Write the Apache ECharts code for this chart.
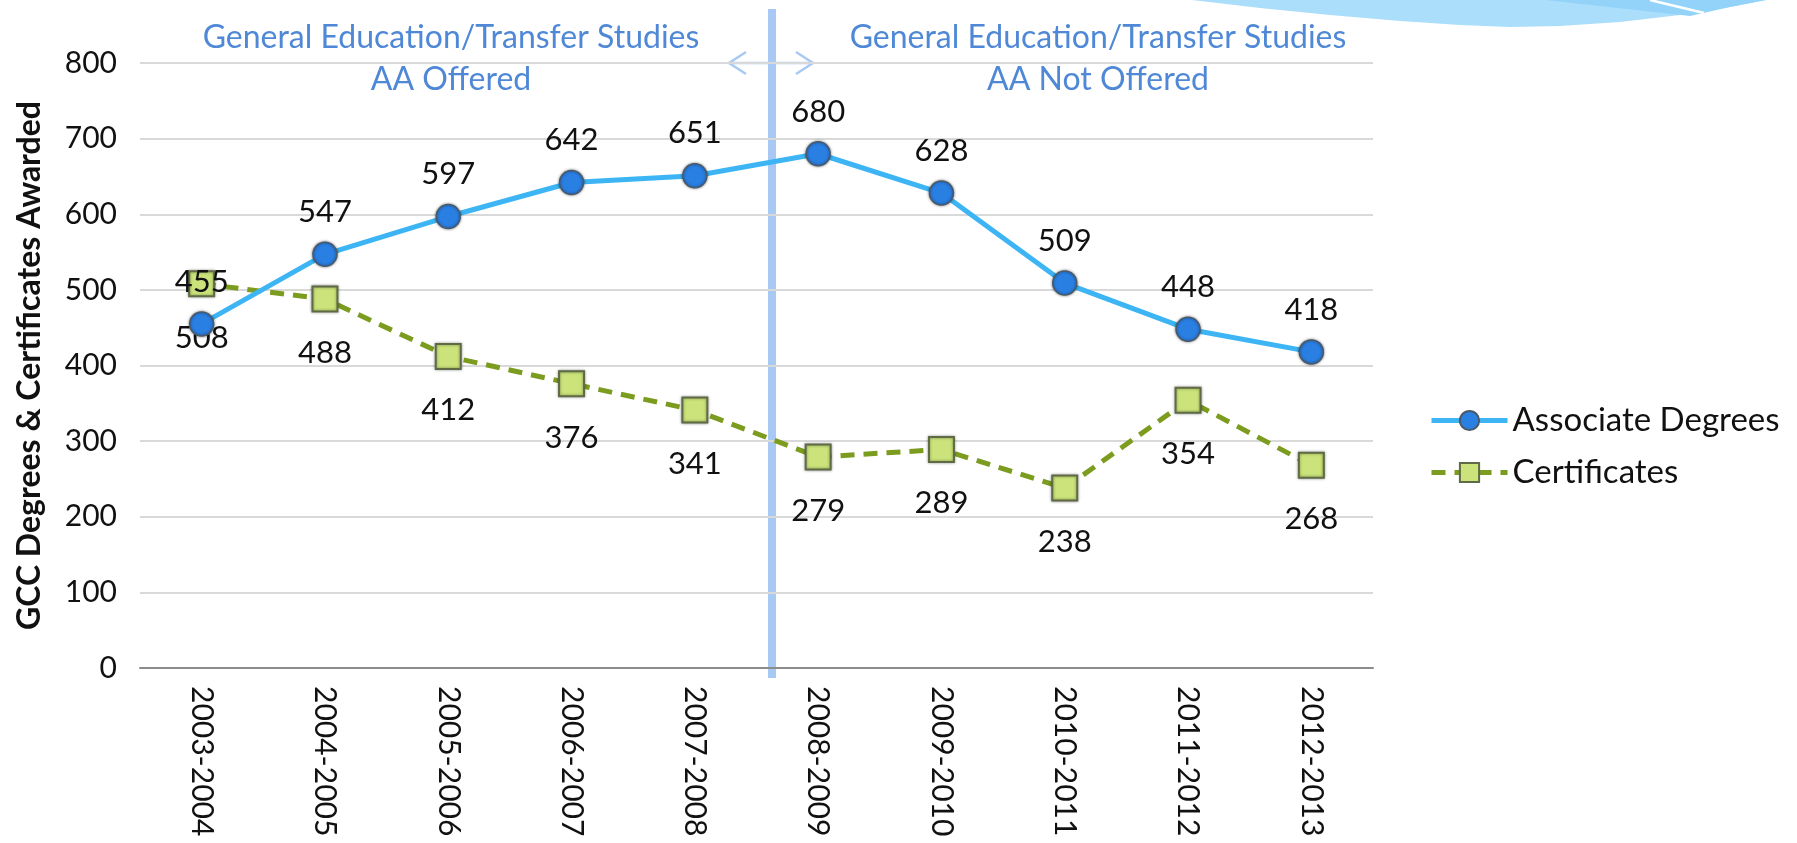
<!DOCTYPE html>
<html>
<head>
<meta charset="utf-8">
<script src="https://cdn.jsdelivr.net/npm/echarts@6/dist/echarts.min.js"></script>
<style>
  html, body { margin: 0; padding: 0; background: #fff; }
  #main { width: 1797px; height: 843px; }
</style>
</head>
<body>
<div id="main"></div>
<script>
var years = ['2003-2004', '2004-2005', '2005-2006', '2006-2007', '2007-2008',
    '2008-2009', '2009-2010', '2010-2011', '2011-2012', '2012-2013'];
var associateDegrees = [455, 547, 597, 642, 651, 680, 628, 509, 448, 418];
var certificates = [508, 488, 412, 376, 341, 279, 289, 238, 354, 268];
var yTicks = { min: 0, max: 800, step: 100 };

var FONT = 'Lato';
var noteBlue = '#4f88d6';
var dividerBlue = '#a9c9f5';

var chart = echarts.init(document.getElementById('main'));

function note(text, x, y) {
    return {
        type: 'text',
        x: x,
        y: y,
        silent: true,
        style: {
            text: text,
            fill: noteBlue,
            font: '32px ' + FONT,
            textAlign: 'center',
            textVerticalAlign: 'middle'
        }
    };
}

var option = {
    animation: false,
    textStyle: { fontFamily: FONT },
    grid: { left: 140, right: 424, top: 63, bottom: 175 },
    legend: {
        orient: 'vertical',
        left: 1424,
        top: 399,
        itemWidth: 76,
        itemHeight: 24,
        itemGap: 19,
        lineStyle: { width: 5 },
        textStyle: { fontSize: 33, color: '#111', fontFamily: FONT },
        data: ['Associate Degrees', 'Certificates']
    },
    xAxis: {
        type: 'category',
        data: years,
        axisLine: { lineStyle: { color: '#8c8c8c', width: 2 } },
        axisTick: { length: 10, lineStyle: { color: '#8c8c8c', width: 2 } },
        axisLabel: { rotate: -90, margin: 18, fontSize: 30, color: '#111', fontFamily: FONT }
    },
    yAxis: {
        type: 'value',
        min: yTicks.min,
        max: yTicks.max,
        interval: yTicks.step,
        name: 'GCC Degrees & Certificates Awarded',
        nameLocation: 'middle',
        nameGap: 94,
        nameTextStyle: { fontSize: 32, fontWeight: 'bold', color: '#111', fontFamily: FONT },
        axisLine: { show: false },
        axisTick: { show: false },
        axisLabel: { margin: 23, fontSize: 30, color: '#111', fontFamily: FONT },
        splitLine: { lineStyle: { color: '#d9d9d9', width: 2 } }
    },
    series: [{
            name: 'Associate Degrees',
            type: 'line',
            data: associateDegrees,
            symbol: 'circle',
            symbolSize: 24,
            z: 3,
            lineStyle: { color: '#3db5f5', width: 5 },
            itemStyle: {
                color: '#2a7fe3',
                borderColor: '#4a5a6a',
                borderWidth: 1.5,
                shadowBlur: 3,
                shadowColor: 'rgba(0,0,0,0.45)'
            },
            label: {
                show: true,
                position: 'top',
                distance: 14,
                fontSize: 31,
                color: '#111',
                fontFamily: FONT
            }
        },
        {
            name: 'Certificates',
            type: 'line',
            data: certificates,
            symbol: 'rect',
            symbolSize: 25,
            z: 2,
            lineStyle: { color: '#7c9c1f', width: 5, type: [14, 9] },
            itemStyle: {
                color: '#cbe37a',
                borderColor: '#5f6b45',
                borderWidth: 2,
                shadowBlur: 3,
                shadowColor: 'rgba(0,0,0,0.4)'
            },
            label: {
                show: true,
                position: 'bottom',
                distance: 25,
                fontSize: 31,
                color: '#111',
                fontFamily: FONT
            }
        }
    ],
    graphic: [
        // swoosh in the top right corner
        {
            type: 'polygon',
            silent: true,
            shape: {
                points: [[1192, 0], [1260, 8], [1330, 15], [1400, 21], [1460, 25], [1510, 27],
                    [1560, 26], [1620, 22], [1680, 15], [1730, 7], [1766, 0]]
            },
            style: { fill: '#abdefb' }
        },
        {
            type: 'polygon',
            silent: true,
            shape: { points: [[1545, 0], [1690, 16], [1730, 7], [1766, 0]] },
            style: { fill: '#93d3f9' }
        },
        {
            type: 'line',
            silent: true,
            shape: { x1: 1650, y1: 0, x2: 1704, y2: 13 },
            style: { stroke: '#ffffff', lineWidth: 2.5 }
        },
        // divider between the two periods
        {
            type: 'rect',
            silent: true,
            shape: { x: 768, y: 9, width: 8, height: 669 },
            style: { fill: dividerBlue }
        },
        {
            type: 'line',
            silent: true,
            shape: { x1: 729, y1: 63, x2: 813, y2: 63 },
            style: { stroke: dividerBlue, lineWidth: 2.5 }
        },
        {
            type: 'polyline',
            silent: true,
            shape: { points: [[746, 52], [729, 63], [746, 74]] },
            style: { stroke: dividerBlue, lineWidth: 2.5, fill: null }
        },
        {
            type: 'polyline',
            silent: true,
            shape: { points: [[796, 52], [813, 63], [796, 74]] },
            style: { stroke: dividerBlue, lineWidth: 2.5, fill: null }
        },
        note('General Education/Transfer Studies', 451, 38),
        note('AA Offered', 451, 80),
        note('General Education/Transfer Studies', 1098, 38),
        note('AA Not Offered', 1098, 80)
    ]
};

chart.setOption(option);
window.onresize = function() {
    chart.resize();
};
</script>
</body>
</html>
